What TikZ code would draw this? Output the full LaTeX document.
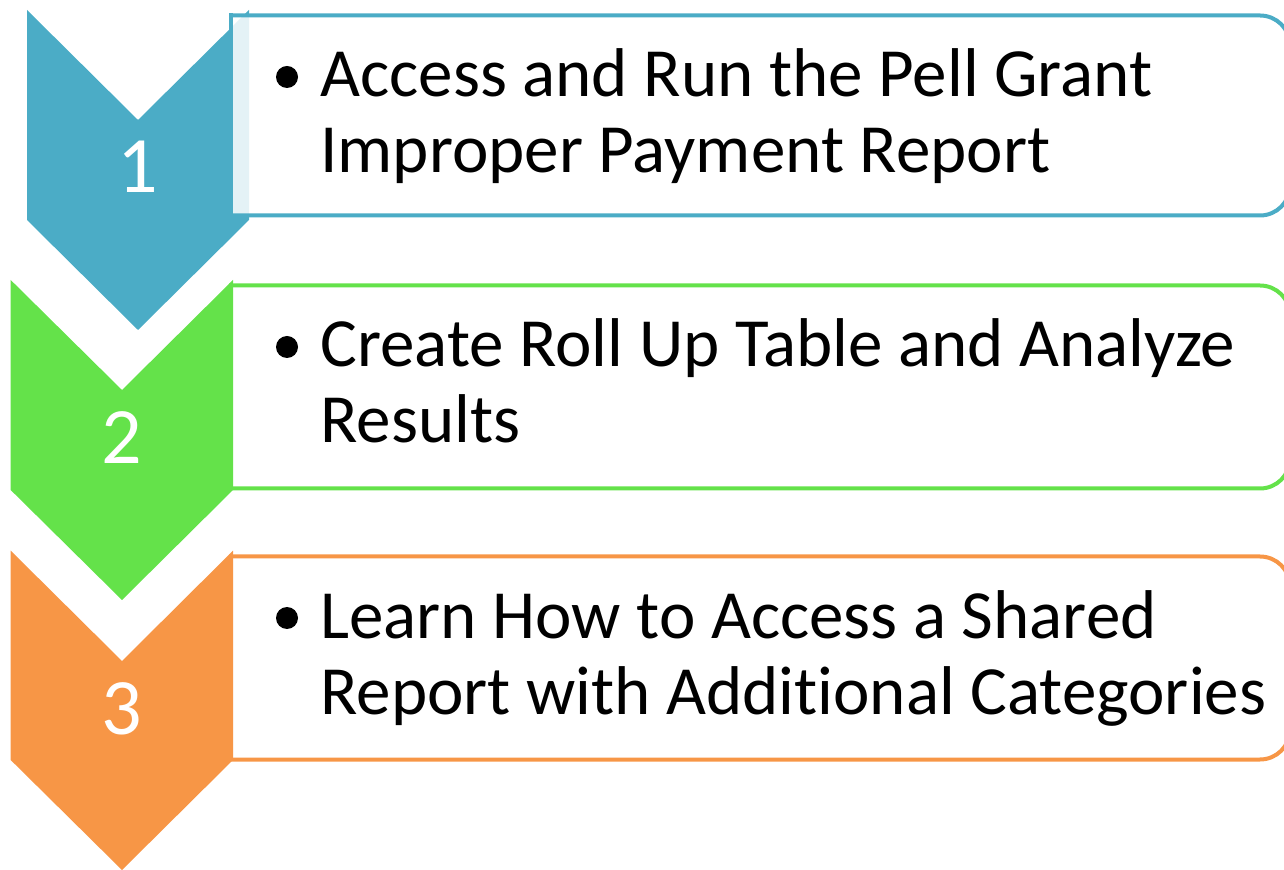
\documentclass[tikz,border=0pt]{standalone}
\usepackage{fontspec}
\setmainfont{Carlito}[Ligatures=NoCommon]
\definecolor{stepblue}{HTML}{4BACC6}
\definecolor{stepgreen}{HTML}{64E24A}
\definecolor{steporange}{HTML}{F79646}
\begin{document}
\begin{tikzpicture}[x=0.5pt,y=-0.5pt,
  boxline/.style={line width=2pt},
  numlabel/.style={text=white, font=\fontsize{40}{48}\selectfont, inner sep=0pt, anchor=base},
  itemtext/.style={font=\fontsize{34.5}{38}\selectfont, align=left, inner sep=0pt, anchor=base west},
  bulletdot/.style={circle, fill=black, minimum size=11pt, inner sep=0pt}]
\useasboundingbox (0,0) rectangle (1284,870);
\clip (0,0) rectangle (1284,870);

% step 1 chevron, with its box laid over it
\fill[stepblue] (27,10) -- (138,120) -- (249,10) -- (249,220) -- (138,330) -- (27,220) -- cycle;
\fill[white, fill opacity=0.85] (231,15.5) rectangle (1290,215.5);
\draw[stepblue, boxline, rounded corners=15pt] (231,15.5) -- (1290,15.5) -- (1290,215.5) -- (231,215.5);
\draw[stepblue, boxline, line cap=rect] (231,15.5) -- (231,215.5);

% boxes 2 and 3 sit behind their chevrons
\fill[white] (229,285.5) rectangle (1290,488.5);
\draw[stepgreen, boxline, rounded corners=15pt] (229,285.5) -- (1290,285.5) -- (1290,488.5) -- (229,488.5);
\fill[white] (229,556.5) rectangle (1290,759.5);
\draw[steporange, boxline, rounded corners=15pt] (229,556.5) -- (1290,556.5) -- (1290,759.5) -- (229,759.5);

% chevrons 2 and 3
\fill[stepgreen] (10.7,280) -- (122,390) -- (233,280) -- (233,490) -- (122,600) -- (10.7,490) -- cycle;
\fill[steporange] (10.7,550.7) -- (122,661) -- (233,550.7) -- (233,760) -- (122,870) -- (10.7,760) -- cycle;

% step numbers
\node[numlabel] (n1) at (138,193) {1};
\node[numlabel] (n2) at (122,464) {2};
\node[numlabel] (n3) at (122,734) {3};

% bullets and item texts (anchored on the baseline of the last line)
\node[bulletdot] (d1) at (287,77) {};
\node[bulletdot] (d2) at (287,347) {};
\node[bulletdot] (d3) at (287,618) {};
\node[itemtext] (t1) at (320,173) {Access and Run the Pell Grant\\Improper Payment Report};
\node[itemtext] (t2) at (320,443) {Create Roll Up Table and Analyze\\Results};
\node[itemtext] (t3) at (320,714) {Learn How to Access a Shared\\Report with Additional Categories};
\end{tikzpicture}
\end{document}
